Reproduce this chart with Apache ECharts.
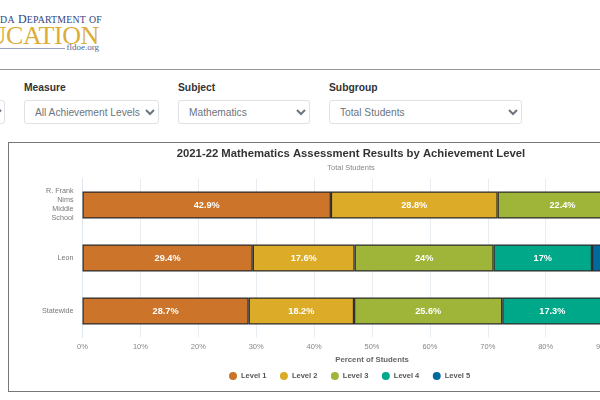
<!DOCTYPE html>
<html>
<head>
<meta charset="utf-8">
<script src="https://cdn.jsdelivr.net/npm/echarts@6/dist/echarts.min.js"></script>
<style>
  html, body { margin: 0; padding: 0; width: 600px; height: 400px; overflow: hidden; background: #fff; font-family: "Liberation Sans", Arial, sans-serif; }
  .abs { position: absolute; white-space: nowrap; }
  .logo1 { right: 498px; top: 12px; font: 12px "Liberation Serif", serif; letter-spacing: 0.2px; color: #2f4583; }
  .logo1 small { font-size: 9.8px; }
  .logo2 { right: 501px; top: 21px; font: 26px/30px "Liberation Serif", serif; letter-spacing: -0.4px; color: #dcae38; }
  .logo3 { right: 501px; top: 42px; font: 9px "Liberation Serif", serif; color: #56648f; }
  .logoline { left: 0; top: 48px; width: 65px; height: 1px; background: #9aa3c7; }
  .rule { left: 0; top: 69px; width: 600px; height: 1px; background: #999; }
  label { position: absolute; top: 82px; font-size: 10.3px; font-weight: bold; color: #333; }
  select { position: absolute; top: 100px; height: 24px; box-sizing: border-box; border: 1px solid #dee2e6; border-radius: 3px; background: #fff; color: #6c757d; font: 10.2px "Liberation Sans", Arial, sans-serif; padding-left: 6px; }
  #frame { position: absolute; left: 8px; top: 142px; width: 686px; height: 250px; box-sizing: border-box; border: 1px solid #777; }
  #chart { width: 684px; height: 248px; }
</style>
</head>
<body>
<div class="abs logo1">F<small>LORIDA</small> D<small>EPARTMENT</small> <small>OF</small></div>
<div class="abs logo2">EDUCATION</div>
<div class="abs logoline"></div>
<div class="abs logo3">fldoe.org</div>
<div class="abs rule"></div>

<select style="left:-120px;width:125px"><option>School</option></select>
<label style="left:24px">Measure</label>
<select style="left:24px;width:135px"><option>All Achievement Levels</option></select>
<label style="left:178px">Subject</label>
<select style="left:178px;width:132px"><option>Mathematics</option></select>
<label style="left:329px">Subgroup</label>
<select style="left:329px;width:193px"><option>Total Students</option></select>

<div id="frame"><div id="chart"></div></div>

<script>
const categories = ["R. Frank\nNims\nMiddle\nSchool", "Leon", "Statewide"];
const levelNames = ["Level 1", "Level 2", "Level 3", "Level 4", "Level 5"];
const levelColors = ["#cc752a", "#dcab28", "#9eb53a", "#00a88a", "#006a9e"];
const level1 = [42.9, 29.4, 28.7];
const level2 = [28.8, 17.6, 18.2];
const level3 = [22.4, 24, 25.6];
const level4 = [5, 17, 17.3];
const level5 = [0.9, 12, 10.2];
const levelValues = [level1, level2, level3, level4, level5];

const chart = echarts.init(document.getElementById("chart"));

chart.setOption({
  animation: false,
  title: {
    text: "2021-22 Mathematics Assessment Results by Achievement Level",
    subtext: "Total Students",
    left: 337,
    top: 0,
    textAlign: "center",
    itemGap: 5,
    textStyle: { fontFamily: "Liberation Sans", fontSize: 11.3, fontWeight: "bold", color: "#333" },
    subtextStyle: { fontFamily: "Liberation Sans", fontSize: 7.5, color: "#888" },
  },
  legend: {
    left: 215,
    top: 224,
    icon: "circle",
    itemWidth: 8,
    itemHeight: 8,
    itemGap: 13.5,
    itemStyle: { borderWidth: 0 },
    textStyle: { fontFamily: "Liberation Sans", fontSize: 7.5, fontWeight: "bold", color: "#555", padding: [0, 0, 0, -1] },
  },
  grid: { left: 73.5, top: 35.5, width: 579, height: 159 },
  xAxis: {
    type: "value",
    min: 0,
    max: 100,
    interval: 10,
    name: "Percent of Students",
    nameLocation: "middle",
    nameGap: 14,
    nameTextStyle: { fontFamily: "Liberation Sans", fontSize: 7.8, fontWeight: "bold", color: "#666" },
    axisLabel: { formatter: "{value}%", fontFamily: "Liberation Sans", fontSize: 7.5, color: "#888", margin: 5 },
    axisLine: { show: false },
    axisTick: { show: false },
    splitLine: { show: true, lineStyle: { color: "#e8edf2", width: 1 } },
  },
  yAxis: {
    type: "category",
    inverse: true,
    data: categories,
    axisLabel: { fontFamily: "Liberation Sans", fontSize: 7.2, lineHeight: 9, color: "#777", margin: 9, padding: [3, 0, 0, 0] },
    axisLine: { show: true, lineStyle: { color: "#e0e6ee" } },
    axisTick: { show: false },
  },
  series: levelNames.map((name, i) => ({
    name: name,
    type: "bar",
    stack: "levels",
    barWidth: "51%",
    data: levelValues[i],
    itemStyle: { color: levelColors[i], borderColor: "#2b2b2b", borderWidth: 1.2 },
    label: {
      show: true,
      position: "inside",
      formatter: (p) => `${p.value}%`,
      fontFamily: "Liberation Sans",
      fontSize: 9.2,
      fontWeight: "bold",
      color: "#fff",
    },
  })),
});
</script>
</body>
</html>
